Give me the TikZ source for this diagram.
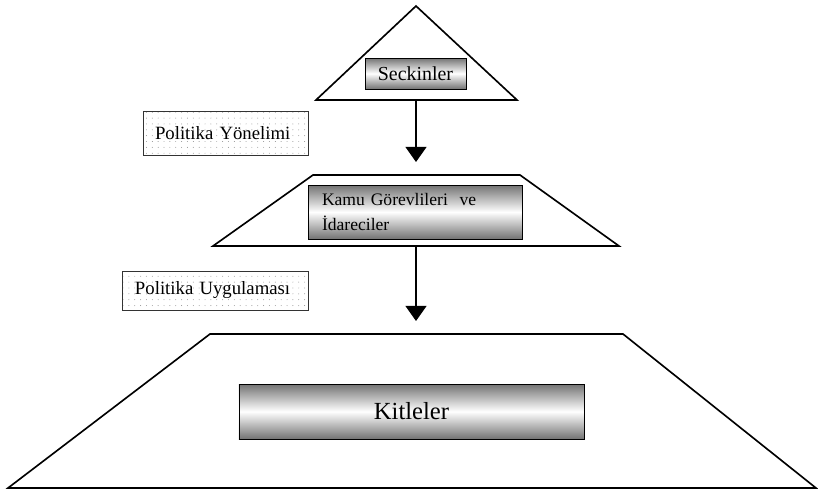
\documentclass[tikz,border=0pt]{standalone}
\usepackage{fontspec}
\setmainfont{Liberation Serif}
\usetikzlibrary{arrows.meta,patterns.meta}

\tikzset{
  layer/.style={line width=1.4pt, line join=miter},
  shadedbox/.style={draw=black, line width=0.8pt, top color=black!55, bottom color=black!55, middle color=white, inner sep=0pt},
  notebox/.style={draw=black!80, line width=0.8pt, pattern={Dots[distance=5pt,radius=0.4pt]}, pattern color=black!45, inner ysep=0pt, align=left},
  flow/.style={line width=1.4pt, -{Triangle[width=18pt,length=13pt]}}
}

\begin{document}
\begin{tikzpicture}[x=0.03cm,y=-0.03cm]
  \useasboundingbox (0,0) rectangle (818,493);
  % layers
  \draw[layer] (416.0,6.0) -- (517.0,100.0) -- (316.0,100.0) -- cycle ;
  \draw[layer] (313.0,175.0) -- (520.0,175.0) -- (619.0,246.0) -- (213.0,246.0) -- cycle ;
  \draw[layer] (210.0,334.0) -- (623.0,334.0) -- (816.0,488.0) -- (8.0,488.0) -- cycle ;
  % boxes
  \node[shadedbox, minimum width=3.03cm, minimum height=0.93cm, font=\fontsize{17}{19}\selectfont] (seckin) at (415.5,73.5) {Seckinler};
  \node[shadedbox, minimum width=6.42cm, minimum height=1.62cm, inner xsep=0.42cm, text width=5.58cm, align=left, font=\fontsize{15}{21}\selectfont] (kamu) at (415.0,212.0) {Kamu Görevlileri\ \ ve\\İdareciler};
  \node[shadedbox, minimum width=10.35cm, minimum height=1.65cm, font=\fontsize{21}{24}\selectfont] (kitle) at (411.5,411.5) {Kitleler};
  \node[notebox, minimum width=4.95cm, minimum height=1.32cm, inner xsep=0.36cm, text width=4.23cm, font=\fontsize{16}{18}\selectfont] (yonelim) at (225.5,133.0) {Politika Yönelimi};
  \node[notebox, minimum width=5.58cm, minimum height=1.17cm, inner xsep=0.39cm, text width=4.8cm, font=\fontsize{16}{18}\selectfont] (uygulama) at (215.0,290.5) {Politika Uygulaması};
  % arrows
  \coordinate (tribase) at (416.0,100.0) ;
  \coordinate (midtop) at (416.0,162.0) ;
  \coordinate (midbase) at (416.0,246.0) ;
  \coordinate (lowtop) at (416.0,321.0) ;
  \draw[flow] (tribase) -- (midtop) ;
  \draw[flow] (midbase) -- (lowtop) ;
\end{tikzpicture}
\end{document}
